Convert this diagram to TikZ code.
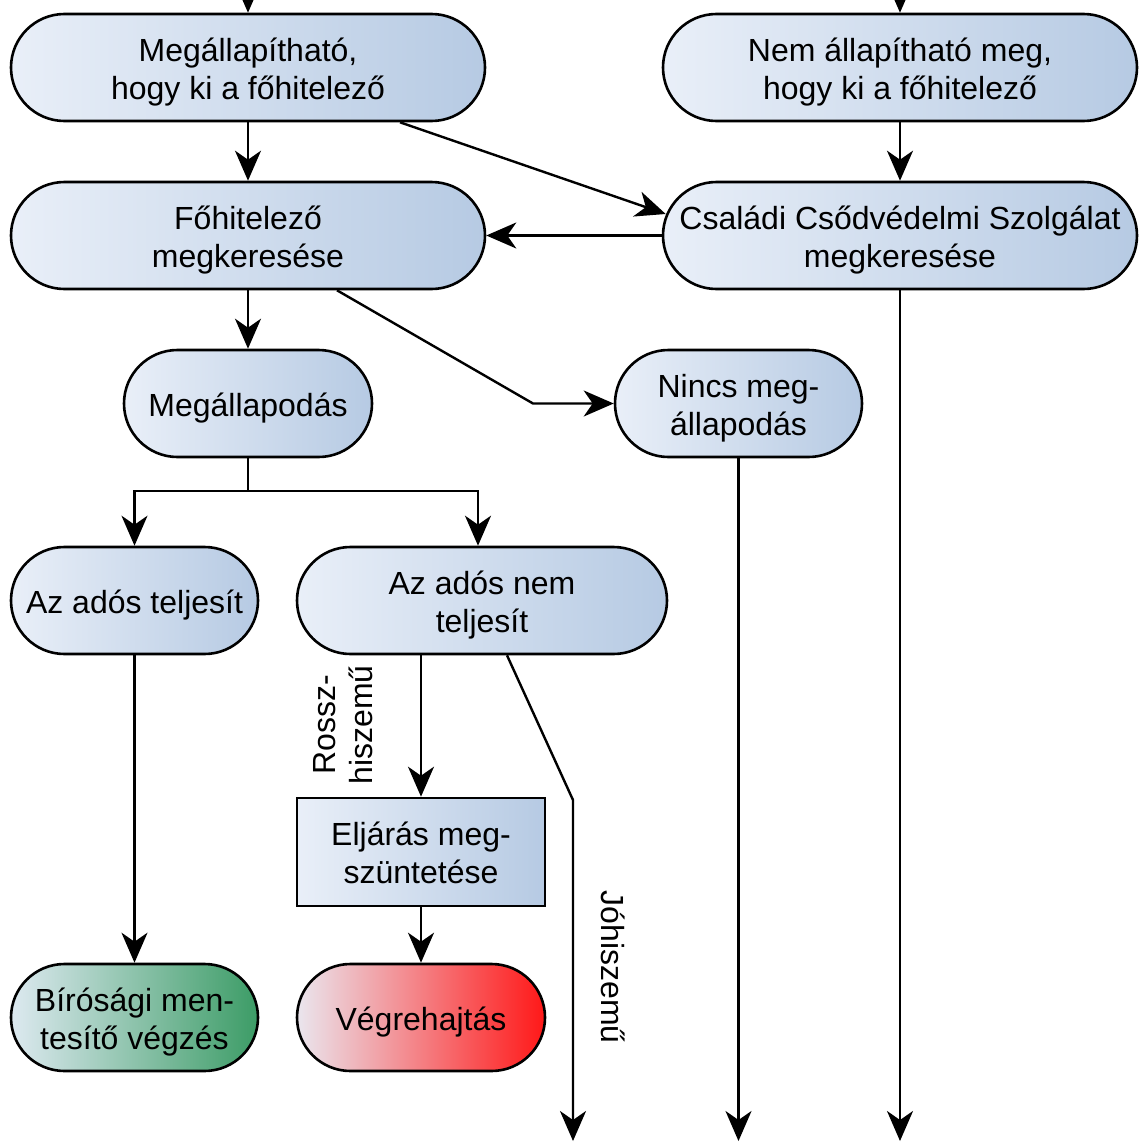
\documentclass[tikz,border=0pt]{standalone}
\usepackage{fontspec}
\setmainfont{Liberation Sans}
\usetikzlibrary{arrows.meta,shapes.misc}
\definecolor{bluel}{HTML}{E9EFF8}
\definecolor{bluer}{HTML}{B6CAE3}
\definecolor{greenl}{HTML}{DDE9F0}
\definecolor{greenr}{HTML}{3C9C66}
\definecolor{redl}{HTML}{EAE6EE}
\definecolor{redr}{HTML}{FF1818}
\newcommand{\tx}[1]{\begin{tabular}{@{}c@{}}\rule{0pt}{36.6pt}#1\end{tabular}}
\tikzset{
  flow/.style={rounded rectangle, draw=black, line width=2.6pt, inner sep=0pt,
    minimum height=107pt, font=\fontsize{32}{38}\selectfont},
  wideflow/.style={rectangle, rounded corners=53.5pt, draw=black, line width=2.6pt, inner sep=0pt,
    minimum height=107pt, font=\fontsize{32}{38}\selectfont},
  bluefill/.style={left color=bluel, right color=bluer},
  greenfill/.style={left color=greenl, right color=greenr},
  redfill/.style={left color=redl, right color=redr},
  boxnode/.style={rectangle, draw=black, line width=2.6pt, inner sep=0pt,
    minimum height=108pt, font=\fontsize{32}{38}\selectfont},
  conn/.style={line width=2.4pt, -{Stealth[length=30pt,width=26pt,inset=9pt]}},
  plain/.style={line width=2.4pt},
  lbl/.style={font=\fontsize{32}{37}\selectfont, align=center, inner sep=0pt}
}
\begin{document}
\begin{tikzpicture}[x=1pt,y=-1pt]
\useasboundingbox (0,0) rectangle (1138,1143);
% nodes
\node[flow,bluefill,minimum width=474pt] (A) at (248,67.5) {\tx{Megállapítható,\\hogy ki a főhitelező}};
\node[flow,bluefill,minimum width=474pt] (B) at (900,67.5) {\tx{Nem állapítható meg,\\hogy ki a főhitelező}};
\node[flow,bluefill,minimum width=474pt] (C) at (248,235.5) {\tx{Főhitelező\\megkeresése}};
\node[wideflow,bluefill,minimum width=474pt] (D) at (900,235.5) {\tx{Családi Csődvédelmi Szolgálat\\megkeresése}};
\node[flow,bluefill,minimum width=248pt] (E) at (248,403.5) {\tx{Megállapodás}};
\node[flow,bluefill,minimum width=247pt] (F) at (738.5,403.5) {\tx{Nincs meg-\\állapodás}};
\node[flow,bluefill,minimum width=247pt] (G) at (134.5,600.5) {\tx{Az adós teljesít}};
\node[flow,bluefill,minimum width=370pt] (H) at (482,600.5) {\tx{Az adós nem\\teljesít}};
\node[boxnode,bluefill,minimum width=248pt] (I) at (421,852) {\tx{Eljárás meg-\\szüntetése}};
\node[flow,greenfill,minimum width=247pt] (J) at (134.5,1017.5) {\tx{Bírósági men-\\tesítő végzés}};
\node[flow,redfill,minimum width=248pt] (K) at (421,1017.5) {\tx{Végrehajtás}};
% labels
\node[lbl,rotate=90] (rl) at (343,725) {Rossz-\\hiszemű};
\node[lbl,rotate=-90] (jl) at (613,967) {Jóhiszemű};
% free ends
\coordinate (inA) at (248,-2);
\coordinate (inB) at (900,-2);
\coordinate (bend1) at (533,403.5);
\coordinate (split) at (248,491);
\coordinate (bend2) at (573,800);
\coordinate (outH) at (573,1141);
\coordinate (outF) at (738.5,1141);
\coordinate (outD) at (900,1141);
% connectors
\draw[conn] (inA) -- (A.north);
\draw[conn] (inB) -- (B.north);
\draw[conn] (A.south) -- (C.north);
\draw[conn] ([xshift=152pt]A.south) -- ([shift={(4pt,21.5pt)}]D.west);
\draw[conn] (B.south) -- (D.north);
\draw[conn] (D.west) -- (C.east);
\draw[conn] (C.south) -- (E.north);
\draw[conn] ([xshift=89pt]C.south) -- (bend1) -- (F.west);
\draw[plain] (E.south) -- (split);
\draw[conn] (split) -| (G.north);
\draw[conn] (split) -| ([xshift=-4pt]H.north);
\draw[conn] (G.south) -- (J.north);
\draw[conn] ([xshift=-61pt]H.south) -- (I.north);
\draw[conn] ([xshift=25pt]H.south) -- (bend2) -- (outH);
\draw[conn] (I.south) -- (K.north);
\draw[conn] (F.south) -- (outF);
\draw[conn] (D.south) -- (outD);
\end{tikzpicture}
\end{document}
